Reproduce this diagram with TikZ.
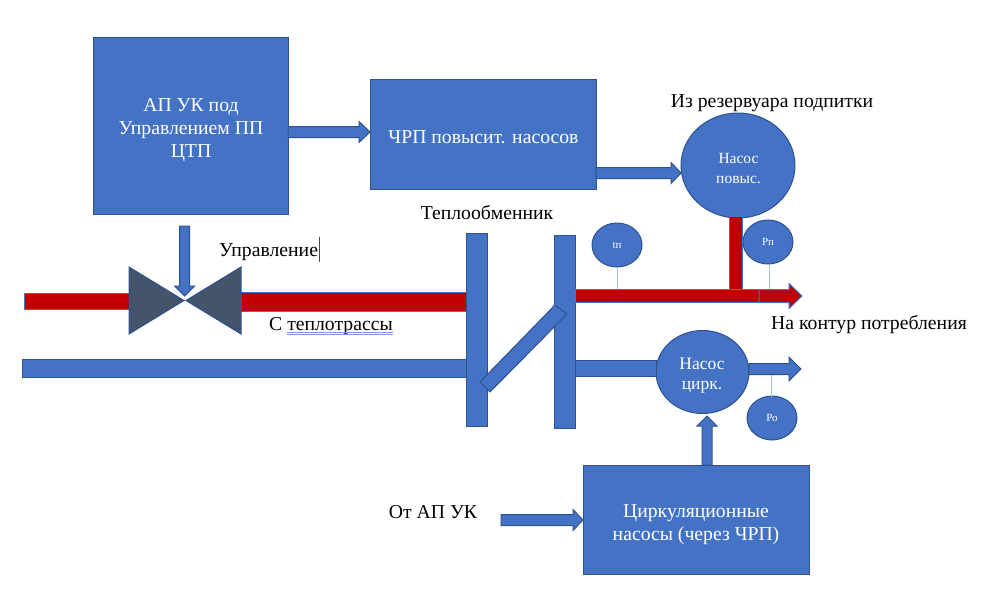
\documentclass[tikz,border=0pt]{standalone}
\usepackage{fontspec}
\setmainfont{Liberation Serif}
\usetikzlibrary{calc,shapes.geometric}
\definecolor{fillblue}{HTML}{4472C4}
\definecolor{edgeblue}{HTML}{2F528F}
\definecolor{hotred}{HTML}{C00000}
\definecolor{valvegrey}{HTML}{44546A}
\definecolor{tapblue}{HTML}{A9BEE2}
\tikzset{
  unit/.style={draw=edgeblue,line width=1pt,fill=fillblue,text=white,align=center,inner sep=0pt,outer sep=0pt},
  blockbox/.style={unit,rectangle},
  plate/.style={unit,rectangle,minimum width=21pt,minimum height=193pt},
  pump/.style={unit,ellipse},
  gauge/.style={unit,ellipse,minimum width=50pt,minimum height=44pt,font=\fontsize{11}{13}\selectfont},
  boxtext/.style={text=white,align=center,inner sep=0pt,font=\fontsize{19.7}{23}\selectfont},
  pumptext/.style={text=white,align=center,inner sep=0pt},
  pipeblue/.style={draw=edgeblue,line width=1pt,fill=fillblue,line join=miter},
  pipered/.style={draw=fillblue,line width=1pt,fill=hotred,line join=miter},
  valvehalf/.style={draw=edgeblue,line width=1pt,fill=valvegrey,line join=miter},
  tapline/.style={draw=tapblue,line width=1pt},
  caption/.style={text=black,font=\fontsize{19.7}{23}\selectfont,inner sep=0pt}
}
% straight pipe: style, start, end, half width
\newcommand{\pipeline}[4]{%
  \draw[#1] ($(#2)!#4!90:(#3)$) -- ($(#3)!#4!-90:(#2)$) -- ($(#3)!#4!90:(#2)$) -- ($(#2)!#4!-90:(#3)$) -- cycle;}
% block arrow: style, start, tip, half shaft, head length, half head
\newcommand{\blockarrow}[6]{%
  \coordinate (neck) at ($(#3)!#5!(#2)$);
  \draw[#1] ($(#2)!#4!90:(#3)$) -- ($(neck)!#4!90:(#3)$) -- ($(neck)!#6!90:(#3)$) -- (#3)
    -- ($(neck)!#6!-90:(#3)$) -- ($(neck)!#4!-90:(#3)$) -- ($(#2)!#4!-90:(#3)$) -- cycle;}
\begin{document}
\begin{tikzpicture}[x=1pt,y=-1pt]
\useasboundingbox (0,0) rectangle (997,592);

% heat exchanger plates
\node[plate] (plateL) at (476.5,329.5) {};
\node[plate] (plateR) at (564.5,331.5) {};

% control and drive boxes
\node[blockbox,minimum width=195pt,minimum height=177pt] (ctrl) at (190.5,125.5) {};
\node[boxtext] (ctrlText) at (191,130) {АП УК под\\Управлением ПП\\ЦТП};
\node[blockbox,minimum width=226pt,minimum height=110pt] (drive) at (483,134) {};
\node[boxtext] (driveText) at (483.5,137.5) {ЧРП повысит. насосов};
\node[blockbox,minimum width=226pt,minimum height=109pt] (circbox) at (696,519.5) {};
\node[boxtext] (circText) at (696,524.5) {Циркуляционные\\насосы (через ЧРП)};

% valve
\coordinate (valveC) at (184,300.5);

% supply and return lines
\coordinate (hotIn) at (24,301);
\coordinate (hotPre) at (129,301);
\coordinate (hotPost) at (241,301.5);
\coordinate (hotEx) at (466,301.5);
\coordinate (coldEnd) at (22,368);
\coordinate (coldEx) at (466,368);
\pipeline{pipered}{hotIn}{hotPre}{8pt}
\pipeline{pipered}{hotPost}{hotEx}{9.5pt}
\pipeline{pipeblue}{coldEnd}{coldEx}{9pt}

% plates over the pipe ends, diagonal link between them
\node[plate] at (plateL) {};
\draw[pipeblue] (555,305) -- (567,314) -- (490,392) -- (480,382) -- cycle;
\node[plate] at (plateR) {};
\draw[pipeblue,draw=fillblue] (553,306) -- (555,305) -- (567,314) -- (555,326) -- cycle;
\draw[edgeblue,line width=1pt] (555,305) -- (567,314) -- (555,326);

\draw[valvehalf] (129,267) -- (129,334) -- (valveC) -- cycle;
\draw[valvehalf] (241,267) -- (241,334) -- (186,300.5) -- cycle;

% pumps
\node[pump,minimum width=114pt,minimum height=105pt] (boost) at (738,165.5) {};
\node[pumptext,font=\fontsize{15.5}{20}\selectfont] (boostText) at (738.5,169) {Насос\\повыс.};
\node[pump,minimum width=93pt,minimum height=83pt] (circ) at (702.5,372) {};
\node[pumptext,font=\fontsize{17.5}{20}\selectfont] (circText2) at (702,376) {Насос\\цирк.};

% gauges
\node[gauge] (tGauge) at (617,245) {tп};
\node[gauge] (pGauge) at (768,242) {Рп};
\node[gauge] (oGauge) at (772,418) {Ро};
\draw[tapline] (tGauge.south) -- (tGauge.south |- 0,289);
\draw[tapline] (769,264) -- (769,289);
\draw[tapline] (771,375) -- (771,397);

% delivery line
\coordinate (feedTop) at (735.5,216);
\coordinate (feedEnd) at (735.5,290);
\pipeline{pipered}{feedTop}{feedEnd}{6.5pt}
\coordinate (hotOutA) at (575,296);
\coordinate (hotOutB) at (759,296);
\coordinate (hotTip) at (802,296);
\pipeline{pipered}{hotOutA}{hotOutB}{6.5pt}
\blockarrow{pipered}{hotOutB}{hotTip}{6.5pt}{13pt}{12.5pt}

% circulation line
\coordinate (retA) at (575,368);
\pipeline{pipeblue}{retA}{circ.west |- retA}{8pt}
\coordinate (retOut) at (749,369);
\coordinate (retTip) at (801,369);
\blockarrow{pipeblue}{retOut}{retTip}{5.5pt}{12pt}{12pt}

% signal arrows
\coordinate (sigA) at (ctrl.east |- 0,132);
\blockarrow{pipeblue}{sigA}{drive.west |- sigA}{5.5pt}{11pt}{10.5pt}
\coordinate (sigB) at (drive.east |- 0,173);
\blockarrow{pipeblue}{sigB}{boost.west |- sigB}{5.5pt}{10pt}{10.5pt}
\coordinate (sigC) at (184.7,226);
\coordinate (sigCtip) at (184.7,296);
\blockarrow{pipeblue}{sigC}{sigCtip}{5pt}{10pt}{10pt}
\coordinate (sigD) at (707,465);
\coordinate (sigDtip) at (707,416);
\blockarrow{pipeblue}{sigD}{sigDtip}{5pt}{10pt}{10pt}
\coordinate (sigE) at (501,520);
\blockarrow{pipeblue}{sigE}{circbox.west |- sigE}{5.5pt}{10pt}{10.5pt}

% captions
\node[caption,anchor=west] (capCtl) at (219,252) {Управление};
\draw[black!70,line width=.6pt] (319,237) -- (319,262);
\node[caption,anchor=west] (capHot) at (269,326) {С теплотрассы};
\draw[fillblue!70,line width=.6pt] (287,332.5) -- (393,332.5) (287,334.5) -- (393,334.5);
\node[caption] (capEx) at (487,213) {Теплообменник};
\node[caption] (capRes) at (772,103) {Из резервуара подпитки};
\node[caption] (capOut) at (869,325) {На контур потребления};
\node[caption] (capFrom) at (433,512) {От АП УК};
\end{tikzpicture}
\end{document}
